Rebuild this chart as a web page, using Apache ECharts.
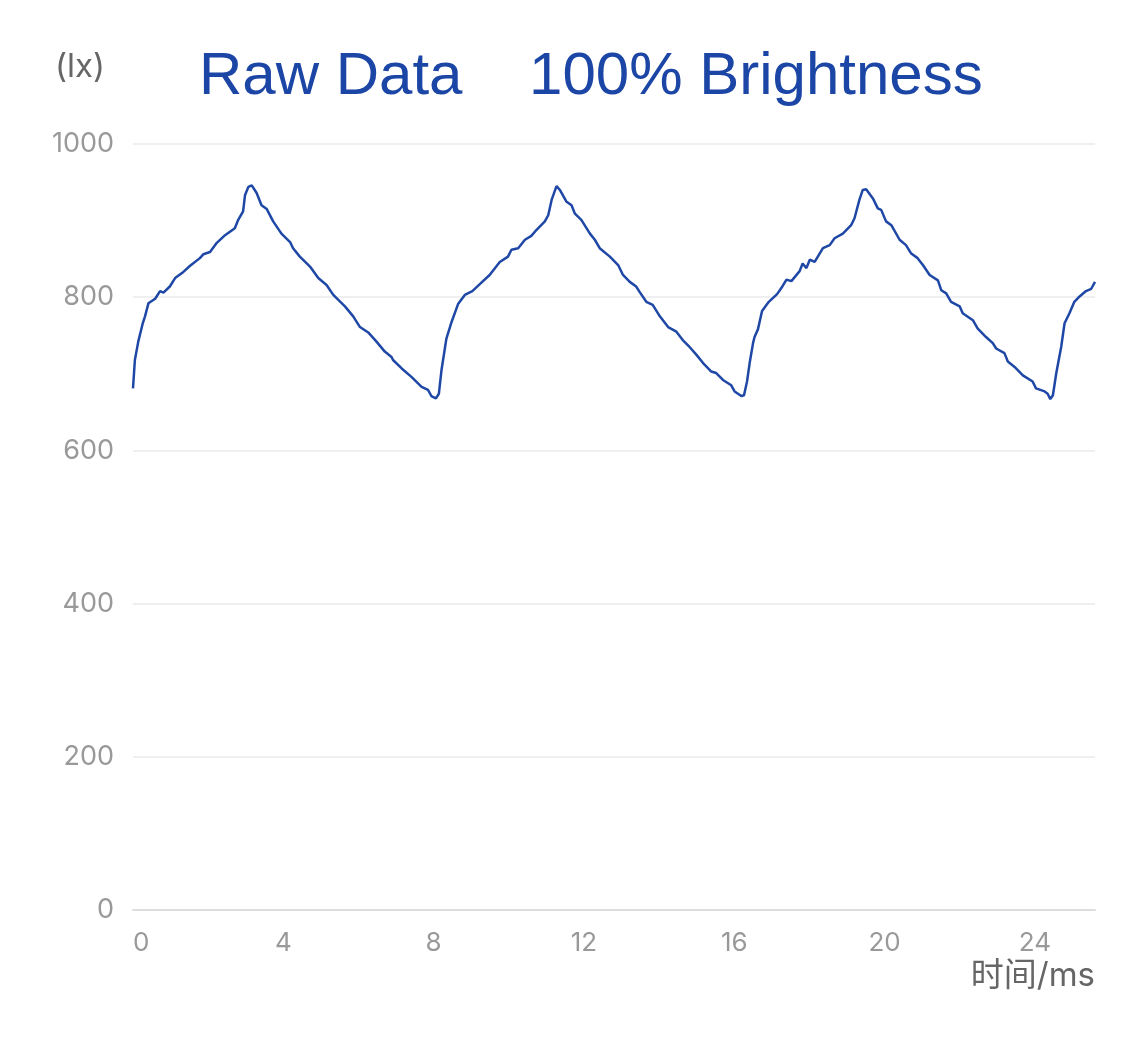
<!DOCTYPE html>
<html>
<head>
<meta charset="utf-8">
<script src="https://cdn.jsdelivr.net/npm/echarts@6/dist/echarts.min.js"></script>
<style>
html,body{margin:0;padding:0;background:#fff;}
#chart{width:1125px;height:1040px;}
</style>
</head>
<body>
<div id="chart"></div>
<script>
// Time in ms
const timeMs = [
  0.00,0.05,0.14,0.26,0.32,0.41,0.59,0.72,0.81,0.98,1.12,1.34,1.52,1.78,1.87,2.05,2.23,2.45,2.71,2.80,
  2.93,2.98,3.07,3.16,3.29,3.42,3.56,3.73,3.95,4.18,4.26,4.44,4.71,4.93,5.15,5.33,5.64,5.86,6.04,6.26,
  6.48,6.70,6.88,6.92,7.15,7.41,7.68,7.85,7.94,8.06,8.14,8.21,8.34,8.48,8.65,8.83,9.03,9.25,9.49,9.76,
  9.98,10.07,10.25,10.43,10.60,10.74,10.96,11.05,11.14,11.27,11.36,11.53,11.67,11.76,11.93,12.16,12.29,12.42,12.69,12.91,
  13.04,13.22,13.39,13.48,13.66,13.83,14.02,14.24,14.46,14.63,14.81,14.99,15.17,15.39,15.52,15.70,15.92,16.01,16.19,16.26,
  16.34,16.41,16.50,16.54,16.63,16.74,16.92,17.14,17.28,17.39,17.52,17.74,17.82,17.92,18.01,18.14,18.36,18.54,18.67,18.89,
  19.11,19.20,19.33,19.42,19.51,19.69,19.82,19.91,20.04,20.18,20.40,20.57,20.71,20.88,21.02,21.20,21.42,21.51,21.64,21.77,
  22.00,22.08,22.35,22.48,22.70,22.88,22.97,23.19,23.28,23.46,23.68,23.94,24.03,24.26,24.34,24.41,24.48,24.57,24.70,24.79,
  24.92,25.05,25.19,25.36,25.50,25.60
];
// Illuminance in lx
const luxValues = [
  681,718,742,766,775,792,798,808,806,814,825,833,841,851,856,859,871,881,890,901,
  912,933,944,946,936,920,915,899,883,872,864,853,840,825,816,803,788,775,761,754,
  742,729,722,718,707,696,683,679,671,668,674,705,746,768,791,803,808,818,829,846,
  853,862,864,875,880,888,899,907,927,945,940,925,920,909,901,883,875,864,853,842,
  829,820,814,807,794,790,775,761,755,744,735,725,714,703,701,692,685,677,671,672,
  690,714,740,748,758,782,794,804,814,823,821,834,844,838,849,846,864,868,877,883,
  894,903,927,940,941,929,916,914,899,894,875,868,857,851,842,829,822,809,805,794,
  788,779,770,759,748,740,733,727,716,709,698,690,681,677,674,667,672,701,735,766,
  779,794,801,808,811,820
];
const titleText = 'Raw Data    100% Brightness';
const yAxisName = '(lx)';
const xAxisName = '时间/ms';

const seriesData = timeMs.map((t, i) => [t, luxValues[i]]);

const chart = echarts.init(document.getElementById('chart'), null, {renderer: 'canvas'});
chart.setOption({
  animation: false,
  backgroundColor: '#ffffff',
  title: {
    text: titleText,
    left: 199,
    top: 47,
    padding: 0,
    textStyle: {
      color: '#1c46a6',
      fontSize: 60,
      fontWeight: 'normal',
      fontFamily: 'Liberation Sans, Arial, sans-serif'
    }
  },
  grid: {left: 133, right: 30, top: 144, bottom: 130, containLabel: false},
  xAxis: {
    type: 'value',
    min: 0,
    max: 25.6,
    interval: 4,
    name: xAxisName,
    nameLocation: 'end',
    nameGap: 0,
    nameTextStyle: {
      color: '#666666',
      fontSize: 33,
      align: 'right',
      verticalAlign: 'top',
      padding: [50, 0, 0, 0],
      fontFamily: 'Inter, Noto Sans CJK SC, sans-serif'
    },
    axisLine: {show: true, lineStyle: {color: '#dddddd', width: 2}},
    axisTick: {show: false},
    splitLine: {show: false},
    axisLabel: {
      color: '#999999',
      fontSize: 26,
      margin: 20,
      showMaxLabel: false,
      alignMinLabel: 'left',
      fontFamily: 'Inter, sans-serif',
      formatter: v => String(v)
    }
  },
  yAxis: {
    type: 'value',
    min: 0,
    max: 1000,
    interval: 200,
    name: yAxisName,
    nameLocation: 'end',
    nameGap: 60,
    nameTextStyle: {
      color: '#666666',
      fontSize: 33,
      align: 'right',
      padding: [0, 28, 0, 0],
      fontFamily: 'Inter, sans-serif'
    },
    axisLine: {show: false},
    axisTick: {show: false},
    splitLine: {show: true, lineStyle: {color: '#efefef', width: 2}},
    axisLabel: {
      color: '#999999',
      fontSize: 27,
      margin: 19,
      fontFamily: 'Inter, sans-serif',
      formatter: v => String(v)
    }
  },
  series: [{
    type: 'line',
    data: seriesData,
    showSymbol: false,
    smooth: false,
    lineStyle: {color: '#1f48a6', width: 2.5},
    itemStyle: {color: '#1f48a6'}
  }]
});
</script>
</body>
</html>
